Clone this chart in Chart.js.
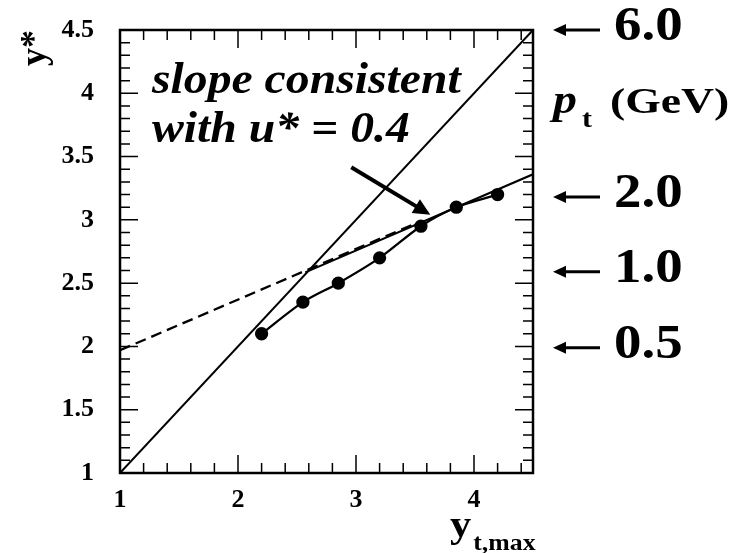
<!DOCTYPE html>
<html>
<head>
<meta charset="utf-8">
<script src="https://cdn.jsdelivr.net/npm/chart.js@4.4.1/dist/chart.umd.min.js"></script>
<style>
  html, body { margin: 0; padding: 0; background: #fff; }
</style>
</head>
<body>
<canvas id="ystarChart" width="735" height="553"></canvas>
<script>
// measured y* against y_t,max
var dataX = [2.2, 2.55, 2.85, 3.2, 3.55, 3.85, 4.2];
var dataY = [2.1, 2.35, 2.5, 2.7, 2.95, 3.1, 3.2];

// y* = y_t,max
var diagX = [1, 4.5];
var diagY = [1, 4.5];

// slope 0.4 line, solid part and dashed extension
var slopeX = [2.57, 4.5];
var slopeY = [2.585, 3.36];
var dashX = [1, 3.5];
var dashY = [1.97, 2.97];

// arrow from the text to the line
var arrowFrom = [2.96, 3.415];
var arrowTo = [3.63, 3.04];

// p_t markers on the right hand side
var ptLabels = ['6.0', '2.0', '1.0', '0.5'];
var ptYstar = [4.5, 3.18, 2.59, 1.99];

var xTicks = [1, 2, 3, 4];
var yTicks = [1, 1.5, 2, 2.5, 3, 3.5, 4, 4.5];

var SERIF = "'Liberation Serif', 'Times New Roman', serif";

function pts(xs, ys) {
    return xs.map(function(x, i) { return { x: x, y: ys[i] }; });
}

// text drawn a little wider than the font, like the original figure
function wideText(ctx, text, x, y, font, sx) {
    ctx.save();
    ctx.font = font;
    ctx.translate(x, y);
    ctx.scale(sx, 1);
    ctx.fillText(text, 0, 0);
    var w = ctx.measureText(text).width * sx;
    ctx.restore();
    return w;
}

function arrowHead(ctx, x0, y0, x1, y1, len, half) {
    var a = Math.atan2(y1 - y0, x1 - x0);
    ctx.beginPath();
    ctx.moveTo(x1, y1);
    ctx.lineTo(x1 - len * Math.cos(a) + half * Math.sin(a), y1 - len * Math.sin(a) - half * Math.cos(a));
    ctx.lineTo(x1 - len * Math.cos(a) - half * Math.sin(a), y1 - len * Math.sin(a) + half * Math.cos(a));
    ctx.closePath();
    ctx.fill();
}

// no extra room around the axes for the end labels
function noPadding(scale) {
    scale.paddingTop = 0;
    scale.paddingBottom = 0;
    scale.paddingLeft = 0;
    scale.paddingRight = 0;
}

var framePlugin = {
    id: 'frame',
    afterDraw: function(chart) {
        var ctx = chart.ctx;
        var a = chart.chartArea;
        var xs = chart.scales.x, ys = chart.scales.y;
        ctx.save();
        ctx.strokeStyle = '#000';
        ctx.fillStyle = '#000';

        // tick marks on all four sides, pointing inwards
        ctx.lineWidth = 1.5;
        ctx.beginPath();
        for (var i = 0; ; i++) {
            var v = 1 + i * 0.2;
            if (v > 4.5 + 1e-6) break;
            var px = xs.getPixelForValue(v);
            var len = Math.abs(v - Math.round(v)) < 1e-6 ? 18 : 10;
            ctx.moveTo(px, a.bottom); ctx.lineTo(px, a.bottom - len);
            ctx.moveTo(px, a.top); ctx.lineTo(px, a.top + len);
        }
        for (var j = 0; ; j++) {
            var w = 1 + j * 0.1;
            if (w > 4.5 + 1e-6) break;
            var py = ys.getPixelForValue(w);
            var l2 = Math.abs(w * 2 - Math.round(w * 2)) < 1e-6 ? 18 : 10;
            ctx.moveTo(a.left, py); ctx.lineTo(a.left + l2, py);
            ctx.moveTo(a.right, py); ctx.lineTo(a.right - l2, py);
        }
        ctx.stroke();

        ctx.lineWidth = 2.5;
        ctx.strokeRect(a.left, a.top, a.right - a.left, a.bottom - a.top);

        // arrow towards the slope line
        var fx = xs.getPixelForValue(arrowFrom[0]), fy = ys.getPixelForValue(arrowFrom[1]);
        var tx = xs.getPixelForValue(arrowTo[0]), ty = ys.getPixelForValue(arrowTo[1]);
        var ang = Math.atan2(ty - fy, tx - fx);
        ctx.lineWidth = 4;
        ctx.beginPath();
        ctx.moveTo(fx, fy);
        ctx.lineTo(tx - 12 * Math.cos(ang), ty - 12 * Math.sin(ang));
        ctx.stroke();
        arrowHead(ctx, fx, fy, tx, ty, 17, 8);

        // annotation text
        ctx.textBaseline = 'alphabetic';
        ctx.textAlign = 'left';
        wideText(ctx, 'slope consistent', 152, 93, 'italic bold 45px ' + SERIF, 1.06);
        wideText(ctx, 'with u* = 0.4', 152, 142, 'italic bold 45px ' + SERIF, 1.06);

        // p_t arrows on the right
        for (var k = 0; k < ptLabels.length; k++) {
            var yy = ys.getPixelForValue(ptYstar[k]);
            ctx.lineWidth = 3;
            ctx.beginPath();
            ctx.moveTo(562, yy); ctx.lineTo(600, yy);
            ctx.stroke();
            arrowHead(ctx, 600, yy, 553, yy, 13, 6);
            wideText(ctx, ptLabels[k], 614, yy + 10, 'bold 49px ' + SERIF, 1.12);
        }
        wideText(ctx, 'p', 553, 113, 'italic bold 40px ' + SERIF, 1.2);
        wideText(ctx, 't', 582, 127, 'bold 25px ' + SERIF, 1.2);
        wideText(ctx, '(GeV)', 610, 113, 'bold 36px ' + SERIF, 1.27);

        // axis titles
        var yw = wideText(ctx, 'y', 450, 537, 'bold 38px ' + SERIF, 1.12);
        wideText(ctx, 't,max', 450 + yw + 2, 550, 'bold 23px ' + SERIF, 1.12);

        ctx.save();
        ctx.translate(45, 66);
        ctx.rotate(-Math.PI / 2);
        ctx.font = 'bold 36px ' + SERIF;
        ctx.fillText('y*', 0, 0);
        ctx.restore();

        ctx.restore();
    }
};

var ctx = document.getElementById('ystarChart').getContext('2d');
new Chart(ctx, {
    type: 'scatter',
    data: {
        datasets: [{
            label: 'y* = y_t,max',
            data: pts(diagX, diagY),
            showLine: true,
            borderColor: '#000',
            borderWidth: 2,
            pointRadius: 0
        }, {
            label: 'slope',
            data: pts(slopeX, slopeY),
            showLine: true,
            borderColor: '#000',
            borderWidth: 2,
            pointRadius: 0
        }, {
            label: 'slope (extended)',
            data: pts(dashX, dashY),
            showLine: true,
            borderColor: '#000',
            borderWidth: 2.3,
            borderDash: [11, 6],
            pointRadius: 0
        }, {
            label: 'data',
            data: pts(dataX, dataY),
            showLine: true,
            borderColor: '#000',
            borderWidth: 2.3,
            tension: 0.3,
            pointRadius: 5.5,
            pointBackgroundColor: '#000',
            pointBorderColor: '#000'
        }]
    },
    options: {
        responsive: false,
        animation: false,
        devicePixelRatio: 1,
        layout: { padding: { top: 30, right: 202, left: 0, bottom: 0 } },
        plugins: {
            legend: { display: false },
            tooltip: { enabled: false }
        },
        scales: {
            x: {
                type: 'linear',
                min: 1,
                max: 4.5,
                afterBuildTicks: function(scale) {
                    scale.ticks = xTicks.map(function(v) { return { value: v }; });
                },
                afterFit: function(scale) { scale.height = 80; noPadding(scale); },
                grid: { display: false, drawTicks: false },
                border: { display: false },
                ticks: {
                    color: '#000',
                    padding: 12,
                    maxRotation: 0,
                    font: { family: SERIF, size: 26, weight: 'bold' },
                    callback: function(v) { return String(v); }
                }
            },
            y: {
                type: 'linear',
                min: 1,
                max: 4.5,
                afterBuildTicks: function(scale) {
                    scale.ticks = yTicks.map(function(v) { return { value: v }; });
                },
                afterFit: function(scale) { scale.width = 120; noPadding(scale); },
                grid: { display: false, drawTicks: false },
                border: { display: false },
                ticks: {
                    color: '#000',
                    padding: 26,
                    font: { family: SERIF, size: 26, weight: 'bold' },
                    callback: function(v) { return String(v); }
                }
            }
        }
    },
    plugins: [framePlugin]
});
</script>
</body>
</html>
